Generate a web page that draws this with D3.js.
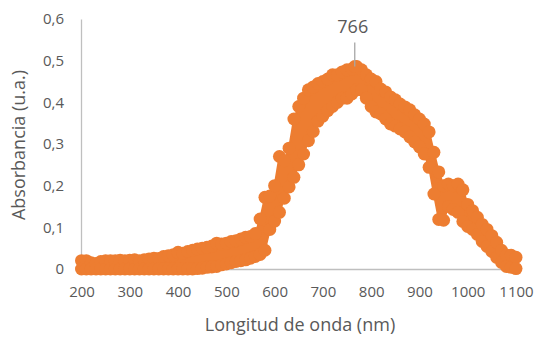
<!DOCTYPE html>
<html>
<head>
<meta charset="utf-8">
<script src="https://cdn.jsdelivr.net/npm/d3@7"></script>
<style>
  html, body { margin: 0; background: #fff; overflow: hidden; }
  svg { display: block; }
  text { font-family: "Open Sans", sans-serif; fill: #595959; }
</style>
</head>
<body>
<div id="chart"></div>
<script>
// wavelength grid (nm) and the upper / lower edge of the measured scatter band
const wavelength = d3.range(200, 1101, 10);
const absTop = [
  0.020, 0.020, 0.015, 0.013, 0.018, 0.020, 0.020, 0.020, 0.021, 0.020,
  0.021, 0.022, 0.020, 0.022, 0.024, 0.026, 0.025, 0.030, 0.032, 0.034,
  0.040, 0.038, 0.042, 0.045, 0.048, 0.050, 0.052, 0.055, 0.062, 0.060,
  0.062, 0.066, 0.068, 0.072, 0.076, 0.078, 0.085, 0.120, 0.172, 0.175,
  0.200, 0.270, 0.260, 0.290, 0.360, 0.390, 0.410, 0.430, 0.437, 0.445,
  0.450, 0.456, 0.466, 0.466, 0.473, 0.478, 0.480, 0.486, 0.478, 0.466,
  0.456, 0.450, 0.432, 0.425, 0.413, 0.406, 0.396, 0.389, 0.382, 0.370,
  0.360, 0.348, 0.329, 0.280, 0.233, 0.200, 0.204, 0.200, 0.204, 0.190,
  0.155, 0.140, 0.124, 0.107, 0.095, 0.080, 0.064, 0.045, 0.033, 0.033,
  0.028
];
const absBottom = [
  0.000, 0.000, 0.000, 0.000, 0.000, 0.000, 0.000, 0.000, 0.000, 0.000,
  0.000, 0.000, 0.000, 0.000, 0.000, 0.000, 0.000, 0.000, 0.000, 0.000,
  0.000, 0.000, 0.000, 0.000, 0.001, 0.002, 0.004, 0.005, 0.006, 0.010,
  0.012, 0.015, 0.018, 0.020, 0.022, 0.026, 0.030, 0.035, 0.045, 0.095,
  0.115, 0.136, 0.170, 0.197, 0.220, 0.250, 0.276, 0.308, 0.330, 0.355,
  0.367, 0.380, 0.390, 0.400, 0.410, 0.410, 0.420, 0.430, 0.430, 0.410,
  0.390, 0.377, 0.372, 0.360, 0.348, 0.343, 0.336, 0.329, 0.317, 0.305,
  0.293, 0.276, 0.244, 0.180, 0.119, 0.117, 0.150, 0.143, 0.136, 0.114,
  0.102, 0.095, 0.083, 0.066, 0.054, 0.042, 0.028, 0.016, 0.006, 0.004,
  0.001
];
const peakNm = 766;
const peakAbs = 0.486;
const xTicks = [200, 300, 400, 500, 600, 700, 800, 900, 1000, 1100];
const yTicks = [0, 0.1, 0.2, 0.3, 0.4, 0.5, 0.6];

const band = wavelength.map((w, i) => ({ x: w, top: absTop[i], bottom: absBottom[i] }));
const points = band.flatMap(d => [{ x: d.x, y: d.top }, { x: d.x, y: d.bottom }]);
points.push({ x: peakNm, y: peakAbs });

const width = 538;
const height = 338;
const margin = { top: 19, right: 22, bottom: 69, left: 81 };
const innerWidth = width - margin.left - margin.right;
const innerHeight = height - margin.top - margin.bottom;
const orange = '#ed7d31';

const svg = d3.select('#chart')
  .append('svg')
  .attr('width', width)
  .attr('height', height);

const g = svg.append('g')
  .attr('transform', `translate(${margin.left},${margin.top})`);

const xScale = d3.scaleLinear()
  .domain([200, 1100])
  .range([0.5, innerWidth]);

const yScale = d3.scaleLinear()
  .domain([0, 0.6])
  .range([innerHeight, 0]);

const fmt = d => d3.format('.1~f')(d).replace('.', ',');

const yAxisG = g.append('g')
  .call(d3.axisLeft(yScale).tickValues(yTicks).tickSize(0).tickPadding(17).tickFormat(fmt));
yAxisG.select('.domain').attr('stroke', '#bfbfbf').attr('stroke-width', 1.3);
yAxisG.selectAll('text').style('font-size', '15px').attr('fill', '#595959');

const xAxisG = g.append('g')
  .attr('transform', `translate(0,${innerHeight})`)
  .call(d3.axisBottom(xScale).tickValues(xTicks).tickSize(0).tickPadding(17).tickFormat(d3.format('d')));
xAxisG.select('.domain').attr('stroke', '#bfbfbf').attr('stroke-width', 1.3);
xAxisG.selectAll('text').style('font-size', '15px').attr('fill', '#595959');

// dense markers: the spread between the band edges is filled, the edges get round markers
const area = d3.area()
  .x(d => xScale(d.x))
  .y0(d => yScale(d.bottom))
  .y1(d => yScale(d.top));

g.append('path')
  .datum(band)
  .attr('d', area)
  .attr('fill', orange)
  .attr('stroke', orange)
  .attr('stroke-width', 2);

g.selectAll('circle').data(points)
  .enter().append('circle')
    .attr('cx', d => xScale(d.x))
    .attr('cy', d => yScale(d.y))
    .attr('r', 6.5)
    .attr('fill', orange);

// data label for the maximum
g.append('line')
  .attr('x1', xScale(peakNm)).attr('x2', xScale(peakNm))
  .attr('y1', yScale(peakAbs) - 24).attr('y2', yScale(peakAbs))
  .attr('stroke', '#a6a6a6')
  .attr('stroke-width', 1.3);

g.append('text')
  .attr('x', xScale(peakNm) - 2)
  .attr('y', yScale(peakAbs) - 34)
  .attr('text-anchor', 'middle')
  .style('font-size', '18px')
  .text(peakNm);

svg.append('text')
  .attr('x', 300)
  .attr('y', 331)
  .attr('text-anchor', 'middle')
  .style('font-size', '18px')
  .text('Longitud de onda (nm)');

svg.append('text')
  .attr('transform', `translate(20,${margin.top + innerHeight / 2 + 1}) rotate(-90)`)
  .attr('text-anchor', 'middle')
  .attr('dominant-baseline', 'middle')
  .style('font-size', '18px')
  .text('Absorbancia (u.a.)');
</script>
</body>
</html>
